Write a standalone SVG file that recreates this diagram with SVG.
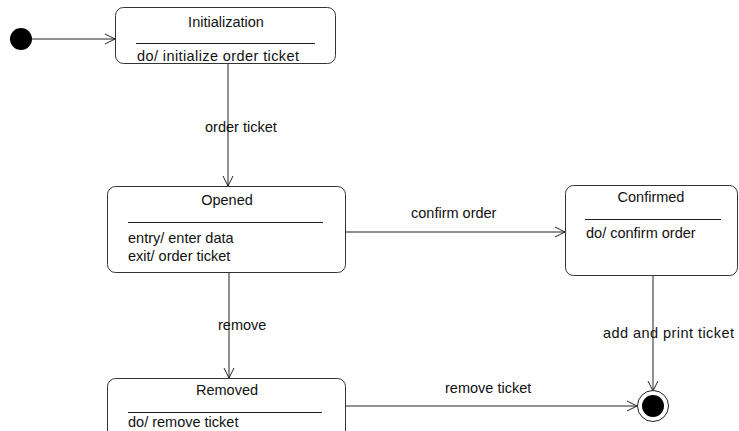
<svg xmlns="http://www.w3.org/2000/svg" width="739" height="431" viewBox="0 0 739 431">
<defs>
<marker id="arr" markerWidth="12" markerHeight="12" refX="11" refY="6" orient="auto" markerUnits="userSpaceOnUse">
<path d="M1,1 L11,6 L1,11" fill="none" stroke="#222" stroke-width="1"/>
</marker>
<style>
.box{fill:#fff;stroke:#333;stroke-width:1}
.sep{stroke:#222;stroke-width:1}
.t{font-family:"Liberation Sans",Arial,sans-serif;font-size:14.5px;fill:#111}
.c{text-anchor:middle}
.e{stroke:#222;stroke-width:1;fill:none}
</style>
</defs>
<rect width="739" height="431" fill="#fff"/>
<g id="edges">
<line class="e" x1="32" y1="39" x2="115" y2="39" marker-end="url(#arr)"/>
<line class="e" x1="228" y1="63" x2="228" y2="186" marker-end="url(#arr)"/>
<text class="t" x="205" y="132">order ticket</text>
<line class="e" x1="345" y1="232" x2="565" y2="232" marker-end="url(#arr)"/>
<text class="t" x="411" y="218">confirm order</text>
<line class="e" x1="653" y1="275" x2="653" y2="391" marker-end="url(#arr)"/>
<text class="t" x="603" y="338" textLength="131">add and print ticket</text>
<line class="e" x1="229" y1="272" x2="229" y2="378" marker-end="url(#arr)"/>
<text class="t" x="218" y="330">remove</text>
<line class="e" x1="345" y1="406" x2="637" y2="406" marker-end="url(#arr)"/>
<text class="t" x="445" y="393">remove ticket</text>
</g>
<g id="initial">
<circle cx="21" cy="39" r="11" fill="#000"/>
</g>
<g id="initialization">
<rect class="box" x="115.5" y="7.5" width="220" height="56" rx="8"/>
<text class="t c" x="226" y="27">Initialization</text>
<line class="sep" x1="136" y1="43.5" x2="315" y2="43.5"/>
<text class="t" x="137" y="61" textLength="162">do/ initialize order ticket</text>
</g>
<g id="opened">
<rect class="box" x="107.5" y="186.5" width="238" height="86" rx="8"/>
<text class="t c" x="227" y="205">Opened</text>
<line class="sep" x1="128" y1="222.5" x2="323" y2="222.5"/>
<text class="t" x="128" y="243">entry/ enter data</text>
<text class="t" x="128" y="261">exit/ order ticket</text>
</g>
<g id="confirmed">
<rect class="box" x="565.5" y="185.5" width="172" height="90" rx="8"/>
<text class="t c" x="651" y="202">Confirmed</text>
<line class="sep" x1="585" y1="219.5" x2="721" y2="219.5"/>
<text class="t" x="586" y="238">do/ confirm order</text>
</g>
<g id="removed">
<rect class="box" x="107.5" y="378.5" width="238" height="80" rx="8"/>
<text class="t c" x="227" y="395">Removed</text>
<line class="sep" x1="128" y1="412.5" x2="322" y2="412.5"/>
<text class="t" x="128" y="427">do/ remove ticket</text>
</g>
<g id="final">
<circle cx="653" cy="406" r="15.5" fill="#fff" stroke="#222" stroke-width="1"/>
<circle cx="653" cy="406" r="11" fill="#000"/>
</g>
</svg>
